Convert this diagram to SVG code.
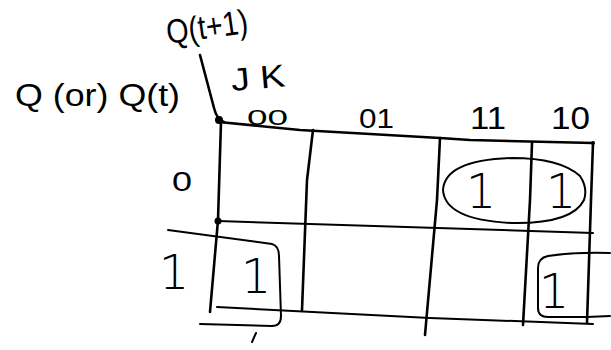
<svg xmlns="http://www.w3.org/2000/svg" width="611" height="350" viewBox="0 0 611 350">
<style>
.ln{fill:none;stroke:#000;stroke-width:2.6;stroke-linecap:round;stroke-linejoin:round}
.thin{fill:none;stroke:#000;stroke-width:2;stroke-linecap:round;stroke-linejoin:round}
.lbl{font-family:"Liberation Sans",Arial,sans-serif;fill:#000}
.one{font-family:"DejaVu Sans","Liberation Sans",sans-serif;font-weight:200;fill:#000;font-size:48px;text-anchor:middle}
</style>
<rect width="611" height="350" fill="#fff"/>
<g id="labels">
<text class="lbl" x="168" y="44" font-size="34" textLength="82" lengthAdjust="spacingAndGlyphs" transform="rotate(-8 168 44)">Q(t+1)</text>
<text class="lbl" x="15" y="106" font-size="31" textLength="165" lengthAdjust="spacingAndGlyphs">Q (or) Q(t)</text>
<text class="lbl" x="232" y="91" font-size="32" textLength="54" lengthAdjust="spacingAndGlyphs" transform="rotate(-5 232 91)">J K</text>
</g>
<g id="col-labels">
<text class="lbl" x="247" y="125" font-size="22" textLength="41" lengthAdjust="spacingAndGlyphs">00</text>
<text class="lbl" x="359" y="128" font-size="27" textLength="35" lengthAdjust="spacingAndGlyphs">01</text>
<text class="lbl" x="470" y="129" font-size="32" textLength="36" lengthAdjust="spacingAndGlyphs">11</text>
<text class="lbl" x="551" y="129" font-size="32" textLength="39" lengthAdjust="spacingAndGlyphs">10</text>
</g>
<g id="row-labels">
<text class="lbl" x="172" y="191" font-size="28" textLength="20" lengthAdjust="spacingAndGlyphs">0</text>
<text class="one" x="174" y="289" font-size="44">1</text>
</g>
<g id="connectors">
<path class="ln" d="M200,55 L214,108 Q217,120 224,122"/>
<circle cx="219" cy="120" r="4"/>
<path class="ln" d="M219,122 L300,130 L440,138 L470,140 L593,143"/>
<circle cx="593" cy="143" r="2"/>
<path class="ln" d="M221,122 L218,220 L210,312"/>
<circle cx="218" cy="221" r="3.5"/>
<path class="ln" d="M313,130 L307,180 L302,310"/>
<path class="ln" d="M440,138 L437,200 L425,335"/>
<path class="ln" d="M532,143 L530,200 L523,325"/>
<path class="ln" d="M593,143 L591,200 L587,323"/>
<path class="thin" d="M218,221 L593,233"/>
<path class="thin" d="M217,307 L430,318 L593,324"/>
<path class="thin" d="M587,317 L610,316"/>
<path class="thin" d="M256,333 L252,342"/>
</g>
<g id="cell-11-10">
<path class="thin" d="M580,176 Q560,158 512,158 Q445,160 443,190 Q445,220 512,223 Q572,224 584,200 Q588,188 580,176"/>
<text class="one" x="481" y="208">1</text>
<text class="one" x="561" y="208">1</text>
</g>
<g id="cell-1-00">
<path class="thin" d="M168,230 L272,244 Q279,246 279,256 L281,316 Q281,326 272,326 L200,324"/>
<text class="one" x="256" y="293">1</text>
</g>
<g id="cell-1-10">
<path class="thin" d="M610,253 Q575,252 548,256 Q538,258 538,268 L538,308 Q538,317 548,317 L587,317"/>
<text class="one" x="554" y="308">1</text>
</g>
</svg>
